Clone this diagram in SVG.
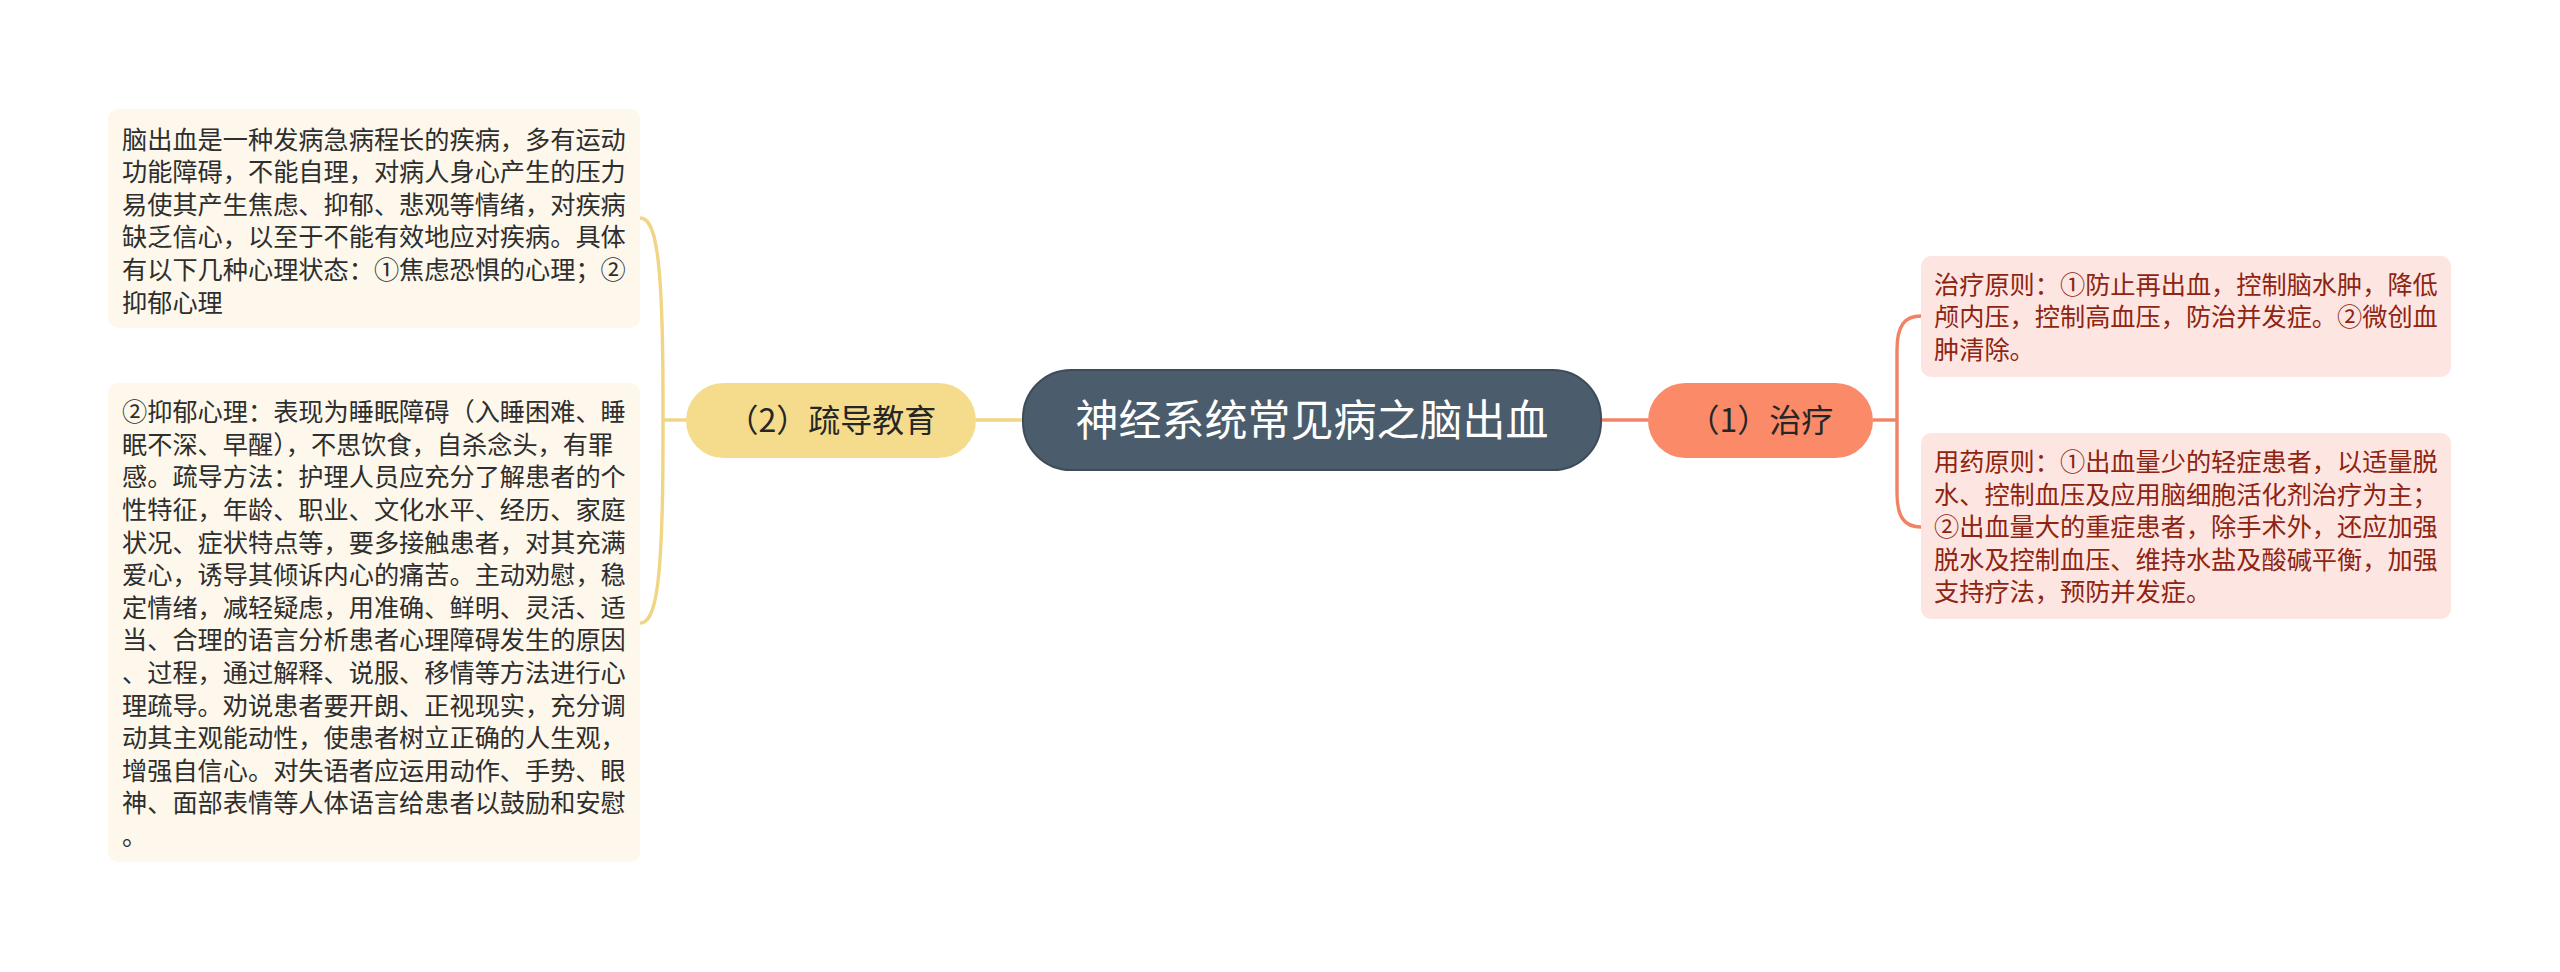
<svg xmlns="http://www.w3.org/2000/svg" width="2560" height="972" viewBox="0 0 2560 972">
<style>
text{font-family:"Noto Sans CJK SC","Noto Sans",sans-serif;}
.bt{font-size:25.2px;fill:#2e2e2e;}
.rt{font-size:25.2px;fill:#8e2412;}
.lbox{fill:#fdf8eb;}
.rbox{fill:#fde6e1;}
.yl{fill:none;stroke:#f0d585;stroke-width:3.4;}
.cl{fill:none;stroke:#f08366;stroke-width:3.4;}
</style>
<rect width="2560" height="972" fill="#ffffff"/>
<g id="connectors">
<path class="yl" d="M1023 420H976"/>
<path class="yl" d="M687 420H663"/>
<path class="yl" d="M640 218C655 218 663 250 663 400V440C663 591 655 623 640 623"/>
<path class="cl" d="M1601 420H1648"/>
<path class="cl" d="M1873 420H1897"/>
<path class="cl" d="M1921 316C1905 316 1897 325 1897 350V493C1897 518 1905 527 1921 527"/>
</g>
<g id="root">
<rect x="1023" y="370" width="578" height="100" rx="48" fill="#4b5c6c" stroke="#3e4c59" stroke-width="2"/>
<text x="1312" y="436" text-anchor="middle" font-size="43" fill="#ffffff">神经系统常见病之脑出血</text>
</g>
<g id="node-guide">
<rect x="686" y="383" width="290" height="75" rx="37.5" fill="#f5dc8d"/>
<text x="831.5" y="432" text-anchor="middle" font-size="32" fill="#262626">（2）疏导教育</text>
</g>
<g id="node-treat">
<rect x="1648" y="383" width="225" height="75" rx="37.5" fill="#fa8a68"/>
<text x="1760.5" y="432" text-anchor="middle" font-size="32" fill="#262626">（1）治疗</text>
</g>
<g id="left-box-1">
<rect class="lbox" x="108" y="109" width="532" height="219" rx="10"/>
<text class="bt" x="122">
<tspan x="122" y="148.5">脑出血是一种发病急病程长的疾病，多有运动</tspan>
<tspan x="122" y="181.1">功能障碍，不能自理，对病人身心产生的压力</tspan>
<tspan x="122" y="213.7">易使其产生焦虑、抑郁、悲观等情绪，对疾病</tspan>
<tspan x="122" y="246.3">缺乏信心，以至于不能有效地应对疾病。具体</tspan>
<tspan x="122" y="278.9">有以下几种心理状态：①焦虑恐惧的心理；②</tspan>
<tspan x="122" y="311.5">抑郁心理</tspan>
</text>
</g>
<g id="left-box-2">
<rect class="lbox" x="108" y="383" width="532" height="479" rx="10"/>
<text class="bt" x="122">
<tspan x="122" y="421.2">②抑郁心理：表现为睡眠障碍（入睡困难、睡</tspan>
<tspan x="122" y="453.8">眠不深、早醒），不思饮食，自杀念头，有罪</tspan>
<tspan x="122" y="486.4">感。疏导方法：护理人员应充分了解患者的个</tspan>
<tspan x="122" y="519.0">性特征，年龄、职业、文化水平、经历、家庭</tspan>
<tspan x="122" y="551.6">状况、症状特点等，要多接触患者，对其充满</tspan>
<tspan x="122" y="584.2">爱心，诱导其倾诉内心的痛苦。主动劝慰，稳</tspan>
<tspan x="122" y="616.8">定情绪，减轻疑虑，用准确、鲜明、灵活、适</tspan>
<tspan x="122" y="649.4">当、合理的语言分析患者心理障碍发生的原因</tspan>
<tspan x="122" y="682.0">、过程，通过解释、说服、移情等方法进行心</tspan>
<tspan x="122" y="714.6">理疏导。劝说患者要开朗、正视现实，充分调</tspan>
<tspan x="122" y="747.2">动其主观能动性，使患者树立正确的人生观，</tspan>
<tspan x="122" y="779.8">增强自信心。对失语者应运用动作、手势、眼</tspan>
<tspan x="122" y="812.4">神、面部表情等人体语言给患者以鼓励和安慰</tspan>
<tspan x="122" y="845.0">。</tspan>
</text>
</g>
<g id="right-box-1">
<rect class="rbox" x="1921" y="256" width="530" height="121" rx="10"/>
<text class="rt" x="1934">
<tspan x="1934" y="293.5">治疗原则：①防止再出血，控制脑水肿，降低</tspan>
<tspan x="1934" y="326.1">颅内压，控制高血压，防治并发症。②微创血</tspan>
<tspan x="1934" y="358.7">肿清除。</tspan>
</text>
</g>
<g id="right-box-2">
<rect class="rbox" x="1921" y="433" width="530" height="186" rx="10"/>
<text class="rt" x="1934">
<tspan x="1934" y="471">用药原则：①出血量少的轻症患者，以适量脱</tspan>
<tspan x="1934" y="503.6">水、控制血压及应用脑细胞活化剂治疗为主；</tspan>
<tspan x="1934" y="536.2">②出血量大的重症患者，除手术外，还应加强</tspan>
<tspan x="1934" y="568.8">脱水及控制血压、维持水盐及酸碱平衡，加强</tspan>
<tspan x="1934" y="601.4">支持疗法，预防并发症。</tspan>
</text>
</g>
</svg>
